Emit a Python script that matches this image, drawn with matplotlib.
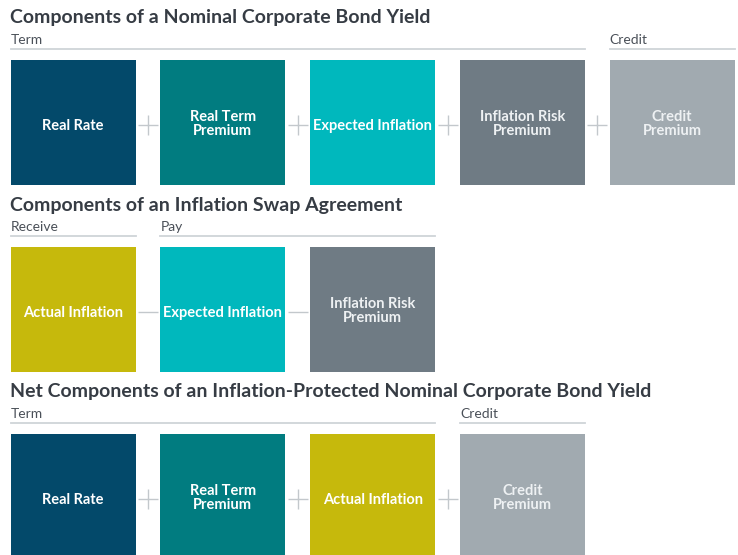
import matplotlib
matplotlib.use("Agg")
import matplotlib.pyplot as plt

# colours of the components
NAVY = "#03496a"
TEAL = "#017c80"
CYAN = "#00b8bd"
SLATE = "#6f7b84"
LIGHT = "#a1aab0"
OLIVE = "#c6b90c"

# row 1: nominal corporate bond yield
title1 = "Components of a Nominal Corporate Bond Yield"
labels1 = ["Real Rate", "Real Term\nPremium", "Expected Inflation", "Inflation Risk\nPremium", "Credit\nPremium"]
colors1 = [NAVY, TEAL, CYAN, SLATE, LIGHT]
ops1 = ["+", "+", "+", "+"]
groups1 = [("Term", 0, 3), ("Credit", 4, 4)]

# row 2: inflation swap
title2 = "Components of an Inflation Swap Agreement"
labels2 = ["Actual Inflation", "Expected Inflation", "Inflation Risk\nPremium"]
colors2 = [OLIVE, CYAN, SLATE]
ops2 = ["-", "-"]
groups2 = [("Receive", 0, 0), ("Pay", 1, 2)]

# row 3: net components
title3 = "Net Components of an Inflation-Protected Nominal Corporate Bond Yield"
labels3 = ["Real Rate", "Real Term\nPremium", "Actual Inflation", "Credit\nPremium"]
colors3 = [NAVY, TEAL, OLIVE, LIGHT]
ops3 = ["+", "+", "+"]
groups3 = [("Term", 0, 2), ("Credit", 3, 3)]

rows = [
    (title1, labels1, colors1, ops1, groups1, 18),
    (title2, labels2, colors2, ops2, groups2, 205),
    (title3, labels3, colors3, ops3, groups3, 392),
]

FONT = "Lato"
X0 = 10.5
PITCH = 149.8
BOXW = 125
BOXH = 125

fig = plt.figure(figsize=(7.38, 5.55), dpi=100)
ax = fig.add_axes([0, 0, 1, 1])
ax.set_xlim(0, 738)
ax.set_ylim(555, 0)
ax.axis("off")

for title, labels, colors, ops, groups, ty in rows:
    ax.text(X0, ty, title, fontsize=14, fontweight="bold", color="#363c44",
            family=FONT, va="center", ha="left")
    # group labels with underline
    for name, i0, i1 in groups:
        gx0 = X0 + i0 * PITCH
        gx1 = X0 + i1 * PITCH + BOXW
        ax.text(gx0, ty + 22, name, fontsize=10, color="#4a5058", family=FONT,
                va="center", ha="left")
        ax.plot([gx0, gx1], [ty + 31, ty + 31], color="#cfd4d8", lw=1.3)
    top = ty + 42
    xs = [X0 + i * PITCH for i in range(len(labels))]
    ax.bar(xs, [BOXH] * len(labels), width=BOXW, bottom=top, color=colors,
           align="edge", linewidth=0)
    for x, lab, c in zip(xs, labels, colors):
        tc = "#eef1f3" if c in (SLATE, LIGHT) else "white"
        dy = 3.5 if "\n" not in lab else 1.5
        ax.text(x + BOXW / 2, top + BOXH / 2 + dy, lab, fontsize=10.5, fontweight="bold",
                color=tc, family=FONT, ha="center", va="center", linespacing=1.05)
    for i, op in enumerate(ops):
        ox = xs[i] + BOXW + (PITCH - BOXW) / 2
        ax.plot([ox], [top + BOXH / 2 + 2], marker="+" if op == "+" else "_",
                markersize=14, mew=1.0, color="#c3c8cc")

fig.savefig("out.png", dpi=100)
